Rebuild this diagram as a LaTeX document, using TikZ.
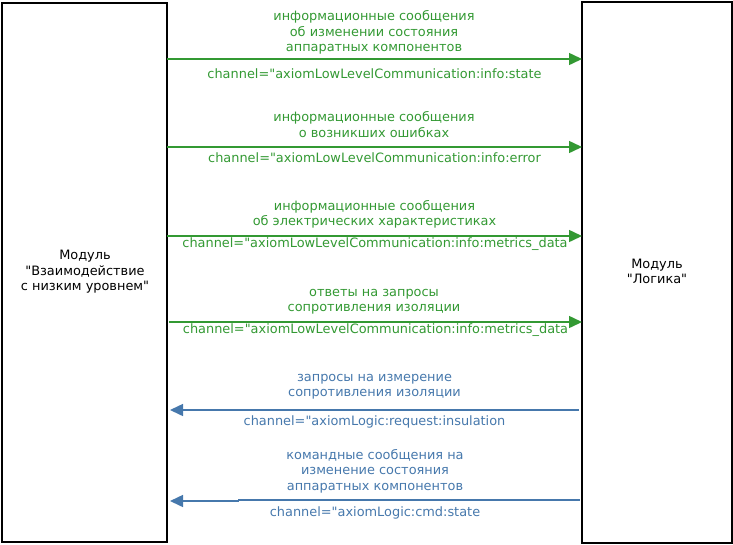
\documentclass[tikz,border=0pt]{standalone}
\usepackage{fontspec}
\setmainfont{DejaVu Sans}[Ligatures=TeXOff]
\usetikzlibrary{arrows.meta}
\definecolor{gr}{RGB}{51,153,51}
\definecolor{bl}{RGB}{70,120,172}
\tikzset{
  module/.style={draw=black, line width=1.4pt, inner sep=0pt},
  lbl/.style={align=center, inner sep=0pt, font=\fontsize{12.9}{15.5}\selectfont},
  glbl/.style={lbl, text=gr},
  blbl/.style={lbl, text=bl},
  garr/.style={draw=gr, line width=1.5pt, -{Triangle[length=13pt,width=12pt]}},
  barr/.style={draw=bl, line width=1.5pt, -{Triangle[length=13pt,width=12pt]}},
}
\begin{document}
\begin{tikzpicture}[x=1pt,y=-1pt]
\useasboundingbox (0,0) rectangle (733,544);
\draw[module] (2,3) rectangle (167,542);
\draw[module] (582,2) rectangle (732,543);
\node[lbl] (L) at (85,272) {Модуль\\"Взаимодействие\\с низким уровнем"};
\node[lbl] (R) at (657,271.5) {Модуль\\"Логика"};
% endpoints
\coordinate (a1s) at (167,59);  \coordinate (a1e) at (582,59);
\coordinate (a2s) at (167,147); \coordinate (a2e) at (582,147);
\coordinate (a3s) at (167,236); \coordinate (a3e) at (582,236);
\coordinate (a4s) at (169,322); \coordinate (a4e) at (582,322);
\coordinate (a5s) at (579,410); \coordinate (a5e) at (170,410);
\coordinate (a6s) at (580,500); \coordinate (a6b) at (238.5,500);
\coordinate (a6c) at (238.5,501); \coordinate (a6e) at (170,501);
\draw[garr] (a1s) -- (a1e);
\draw[garr] (a2s) -- (a2e);
\draw[garr] (a3s) -- (a3e);
\draw[garr] (a4s) -- (a4e);
\draw[barr] (a5s) -- (a5e);
\draw[barr] (a6s) -- (a6b) -- (a6c) -- (a6e);
% labels
\node[glbl] (t1) at (374,32.5) {информационные сообщения\\об изменении состояния\\аппаратных компонентов};
\node[glbl] (c1) at (374.5,73.5) {channel="axiomLowLevelCommunication:info:state};
\node[glbl] (t2) at (374,124.5) {информационные сообщения\\о возникших ошибках};
\node[glbl] (c2) at (374.5,157.5) {channel="axiomLowLevelCommunication:info:error};
\node[glbl] (t3) at (374.5,214.5) {информационные сообщения\\об электрических характеристиках};
\node[glbl] (c3) at (375,244.5) {channel="axiomLowLevelCommunication:info:metrics\_data};
\node[glbl] (t4) at (374,301.5) {ответы на запросы\\сопротивления изоляции};
\node[glbl] (c4) at (375.5,330.5) {channel="axiomLowLevelCommunication:info:metrics\_data};
\node[blbl] (t5) at (374.5,386.5) {запросы на измерение\\сопротивления изоляции};
\node[blbl] (c5) at (374.5,421.5) {channel="axiomLogic:request:insulation};
\node[blbl] (t6) at (375,471) {командные сообщения на\\изменение состояния\\аппаратных компонентов};
\node[blbl] (c6) at (375,512.5) {channel="axiomLogic:cmd:state};
\end{tikzpicture}
\end{document}
